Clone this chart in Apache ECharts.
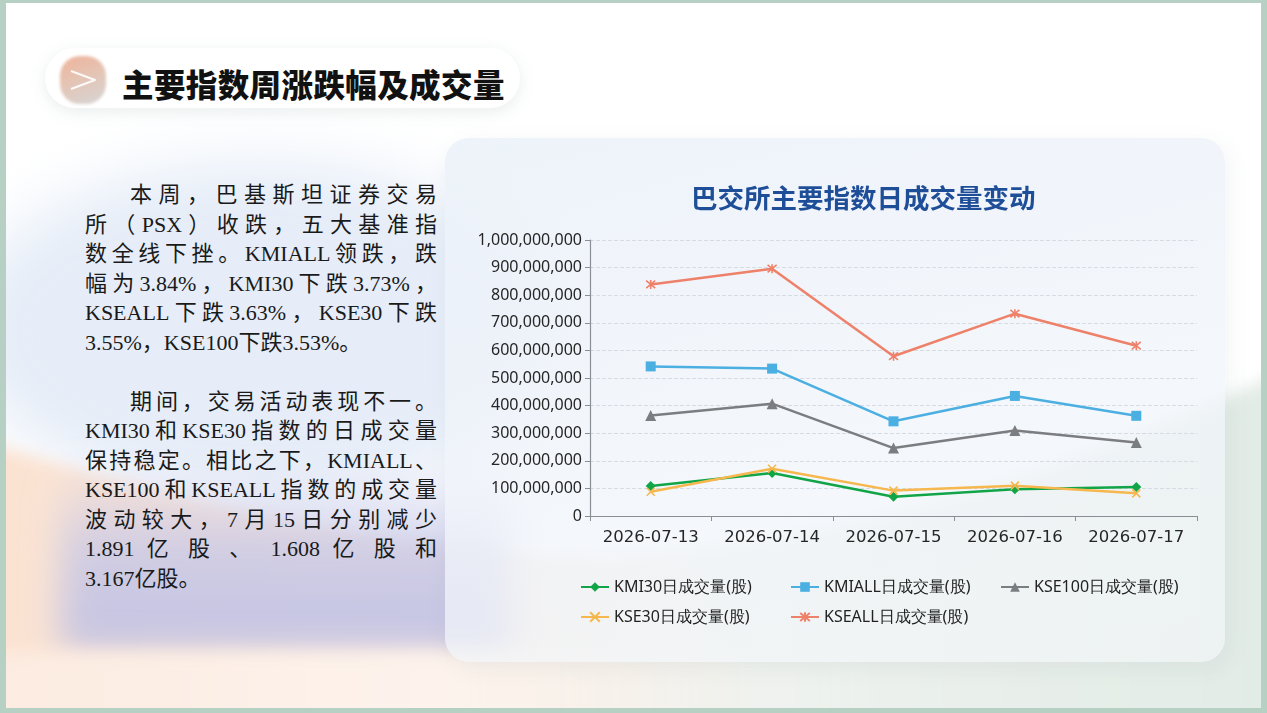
<!DOCTYPE html>
<html>
<head>
<meta charset="utf-8">
<script src="https://cdn.jsdelivr.net/npm/echarts@6/dist/echarts.min.js"></script>
<style>
  html, body { margin: 0; padding: 0; }
  body { width: 1267px; height: 713px; background: #fff; position: relative; overflow: hidden; }
  .bg { position: absolute; left: 0; top: 0; }
  .frame { position: absolute; left: 0; top: 0; width: 1267px; height: 713px; box-sizing: border-box;
    border-style: solid; border-color: #b7d0c4; border-width: 3px 6px 5px 6px; pointer-events: none; }
  .card { position: absolute; left: 445px; top: 138px; width: 780px; height: 524px; border-radius: 24px;
    background: linear-gradient(165deg, rgba(236,242,250,0.9) 0%, rgba(240,244,250,0.8) 50%, rgba(244,247,249,0.6) 100%);
    box-shadow: 4px 6px 22px rgba(90,110,130,0.08); }
  .pill { position: absolute; left: 45px; top: 48px; width: 475px; height: 60px; border-radius: 30px; background: #fff;
    box-shadow: 0 4px 16px rgba(120,150,140,0.16); }
  .icon { position: absolute; left: 60px; top: 56px; width: 46px; height: 48px; border-radius: 20px;
    background: linear-gradient(160deg, #eca689 0%, #e2b8a4 40%, #cfcfcf 100%); filter: blur(1.5px); opacity: 0.85; }
  .icon-svg { position: absolute; left: 60px; top: 56px; }
  .head { position: absolute; left: 122px; top: 60px; font: 900 31.5px "Noto Sans CJK SC"; color: #111; letter-spacing: 0.4px; }
  .txt { position: absolute; left: 85px; top: 180px; width: 352px; font-size: 22px; line-height: 29.5px; color: #1a1a1a;
    font-family: "Liberation Serif", "Noto Sans CJK SC", serif; }
  .txt .l { text-align: justify; text-align-last: justify; white-space: nowrap; }
  .txt .ind { padding-left: 45px; }
  .txt .end { text-align-last: left; }
  .txt .gap { margin-top: 29.5px; }
  #chart { position: absolute; left: 0; top: 0; width: 1267px; height: 713px; }
</style>
</head>
<body>
<svg class="bg" width="1267" height="713" viewBox="0 0 1267 713">
  <defs>
    <filter id="b8" x="-20%" y="-20%" width="140%" height="140%"><feGaussianBlur stdDeviation="8"/></filter>
    <filter id="b30" x="-50%" y="-50%" width="200%" height="200%"><feGaussianBlur stdDeviation="30"/></filter>
    <filter id="b20" x="-50%" y="-50%" width="200%" height="200%"><feGaussianBlur stdDeviation="18"/></filter>
    <linearGradient id="wave" x1="0" y1="0" x2="1" y2="0">
      <stop offset="0" stop-color="#fbe2d1"/>
      <stop offset="0.35" stop-color="#fcebe0"/>
      <stop offset="0.6" stop-color="#eef2ee"/>
      <stop offset="1" stop-color="#e1ebe5"/>
    </linearGradient>
    <linearGradient id="lav" x1="0" y1="0" x2="0" y2="1">
      <stop offset="0" stop-color="#c4c6e8" stop-opacity="0"/>
      <stop offset="0.45" stop-color="#c3c5e7" stop-opacity="0.75"/>
      <stop offset="1" stop-color="#bfc0e3" stop-opacity="0.95"/>
    </linearGradient>
    <linearGradient id="band" x1="0" y1="0" x2="1" y2="0">
      <stop offset="0" stop-color="#fcebe0"/>
      <stop offset="0.5" stop-color="#fdf3ec"/>
      <stop offset="1" stop-color="#eef3f0" stop-opacity="0"/>
    </linearGradient>
  </defs>
  <ellipse cx="260" cy="330" rx="300" ry="170" fill="#e6edf8" filter="url(#b30)"/>
  <path d="M-20,440 Q320,548 600,558 Q920,545 1290,368 L1290,740 L-20,740 Z" fill="url(#wave)" filter="url(#b8)"/>
  <rect x="60" y="465" width="450" height="185" fill="url(#lav)" filter="url(#b20)"/>
  <rect x="-20" y="652" width="920" height="80" fill="url(#band)" filter="url(#b8)"/>
</svg>
<div class="card"></div>
<div class="pill"></div>
<div class="icon"></div>
<svg class="icon-svg" width="46" height="48" viewBox="0 0 46 48">
  <polyline points="11,15 35,24 11,33" fill="none" stroke="#fff" stroke-width="2" stroke-linejoin="round" opacity="0.9"/>
</svg>
<div class="head">主要指数周涨跌幅及成交量</div>
<div class="txt">
  <div class="l ind">本周，巴基斯坦证券交易</div>
  <div class="l">所（PSX）收跌，五大基准指</div>
  <div class="l">数全线下挫。KMIALL领跌，跌</div>
  <div class="l">幅为3.84%，KMI30下跌3.73%，</div>
  <div class="l">KSEALL下跌3.63%，KSE30下跌</div>
  <div class="l end">3.55%，KSE100下跌3.53%。</div>
  <div class="l ind gap">期间，交易活动表现不一。</div>
  <div class="l">KMI30和KSE30指数的日成交量</div>
  <div class="l">保持稳定。相比之下，KMIALL、</div>
  <div class="l">KSE100和KSEALL指数的成交量</div>
  <div class="l">波动较大，7月15日分别减少</div>
  <div class="l">1.891 亿 股 、 1.608 亿 股 和</div>
  <div class="l end">3.167亿股。</div>
</div>
<div id="chart"></div>
<div class="frame"></div>
<script>
// 日期与各指数日成交量(股)
const dates = ['2026-07-13', '2026-07-14', '2026-07-15', '2026-07-16', '2026-07-17'];
const kmi30 = [109000000, 156000000, 70000000, 97000000, 105000000];
const kmiall = [542000000, 534000000, 343000000, 435000000, 363000000];
const kse100 = [364000000, 407000000, 246000000, 310000000, 266000000];
const kse30 = [88000000, 171000000, 92000000, 110000000, 82000000];
const kseall = [839000000, 896000000, 579000000, 733000000, 617000000];
const names = ['KMI30日成交量(股)', 'KMIALL日成交量(股)', 'KSE100日成交量(股)', 'KSE30日成交量(股)', 'KSEALL日成交量(股)'];

const X_PATH = 'path://M0,0L10,10M10,0L0,10';
const STAR_PATH = 'path://M0,0L10,10M10,0L0,10M5,-1L5,11';

function lineSeries(name, data, color, symbol, size, stroke) {
  return {
    name, type: 'line', data, symbol, symbolSize: size,
    lineStyle: { color, width: 2.5 },
    itemStyle: stroke ? { color, borderColor: color, borderWidth: 1.6 } : { color },
    emphasis: { disabled: true }
  };
}

function legendAt(name, left, top) {
  return {
    data: [name], left, top, padding: 0, itemWidth: 28, itemHeight: 12, itemGap: 0,
    textStyle: { fontFamily: 'Noto Sans', fontSize: 16, color: '#222' }
  };
}

const chart = echarts.init(document.getElementById('chart'));
chart.setOption({
  animation: false,
  title: {
    text: '巴交所主要指数日成交量变动', left: 686, top: 180,
    textStyle: { fontFamily: 'Noto Sans CJK SC', fontSize: 26.5, fontWeight: 'bold', color: '#1f4e98' }
  },
  legend: [
    legendAt(names[0], 580, 579),
    legendAt(names[1], 790, 579),
    legendAt(names[2], 1000, 579),
    legendAt(names[3], 580, 609),
    legendAt(names[4], 790, 609)
  ],
  grid: { left: 590, top: 240, width: 607, height: 276 },
  xAxis: {
    type: 'category', data: dates, boundaryGap: true,
    axisLine: { lineStyle: { color: '#8a8f95', width: 1.2 } },
    axisTick: { show: true, length: 5, lineStyle: { color: '#8a8f95' } },
    axisLabel: { interval: 0, fontFamily: 'DejaVu Sans', fontSize: 16.5, color: '#262626', margin: 13 }
  },
  yAxis: {
    type: 'value', min: 0, max: 1000000000, interval: 100000000,
    axisLine: { show: true, lineStyle: { color: '#8a8f95', width: 1.2 } },
    axisTick: { show: true, length: 5, lineStyle: { color: '#8a8f95' } },
    axisLabel: {
      fontFamily: 'Noto Sans', fontSize: 16, color: '#262626', margin: 8,
      formatter: v => v.toLocaleString('en-US')
    },
    splitLine: { lineStyle: { color: '#d6dce3', type: 'dashed', width: 1 } }
  },
  series: [
    lineSeries(names[0], kmi30, '#12a548', 'diamond', 10),
    lineSeries(names[1], kmiall, '#4bafe2', 'rect', 10),
    lineSeries(names[2], kse100, '#7b7d80', 'triangle', 11),
    lineSeries(names[3], kse30, '#f6b84e', X_PATH, 8, true),
    lineSeries(names[4], kseall, '#ee8169', STAR_PATH, 9, true)
  ]
});
</script>
</body>
</html>
